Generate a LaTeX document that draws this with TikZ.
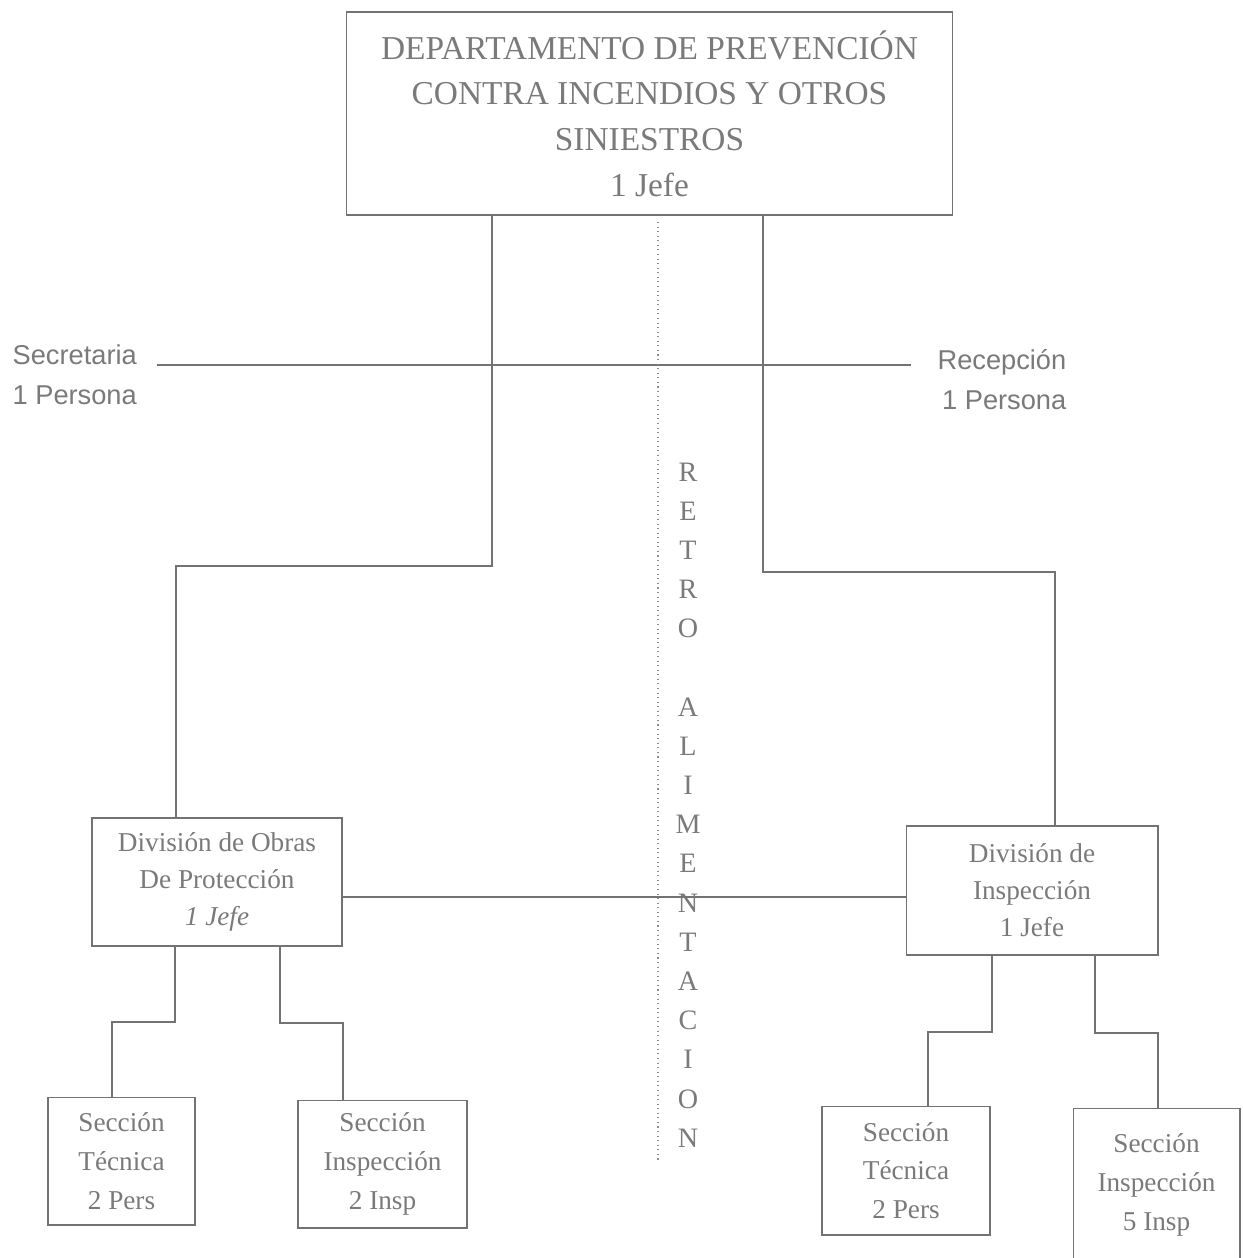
\documentclass[tikz,border=0pt]{standalone}
\usepackage{fontspec}
\setmainfont{Liberation Serif}
\newfontfamily\arialfont{Liberation Sans}
\begin{document}
\begin{tikzpicture}[x=0.02cm,y=-0.02cm,
  txt/.style={text=black!52},
  box/.style={draw=black!55,line width=0.6pt,txt,align=center,inner sep=0pt},
  conn/.style={draw=black!55,line width=0.6pt},
  dots/.style={draw=black!45,line width=0.6pt,dotted},
  bigf/.style={font=\fontsize{19}{26}\selectfont},
  divf/.style={font=\fontsize{15.5}{21}\selectfont},
  secf/.style={font=\fontsize{15.5}{22}\selectfont},
  sidef/.style={font=\arialfont\fontsize{15.5}{22.7}\selectfont,txt,inner sep=0pt}]
\clip (0,0) rectangle (1243,1258);
\fill[white] (0,0) rectangle (1243,1258);

% boxes
\node[box,bigf,minimum width=12.14cm,minimum height=4.06cm] (top) at (649.5,113.5)
  {DEPARTAMENTO DE PREVENCIÓN\\CONTRA INCENDIOS Y OTROS\\SINIESTROS\\1 Jefe};
\node[box,divf,minimum width=5cm,minimum height=2.56cm] (ldiv) at (217,882)
  {División de Obras\\De Protección\\\textit{1 Jefe}};
\node[box,divf,minimum width=5.04cm,minimum height=2.58cm] (rdiv) at (1032,890.5)
  {División de\\Inspección\\1 Jefe};
\node[box,secf,minimum width=2.94cm,minimum height=2.56cm] (stl) at (121.5,1161)
  {Sección\\Técnica\\2 Pers};
\node[box,secf,minimum width=3.38cm,minimum height=2.56cm] (sil) at (382.5,1164)
  {Sección\\Inspección\\2 Insp};
\node[box,secf,minimum width=3.36cm,minimum height=2.58cm] (str) at (906,1170.5)
  {Sección\\Técnica\\2 Pers};
\node[box,secf,minimum width=3.34cm,minimum height=3.08cm] (sir) at (1156.5,1185)
  {Sección\\Inspección\\5 Insp};

% side labels
\node[sidef,align=left,anchor=west,inner xsep=11pt] (sec) at (-7,375) {Secretaria\\1 Persona};
\node[sidef,align=right,anchor=east,inner xsep=15pt] (rec) at (1093,380) {Recepción\\1 Persona};

% vertical RETROALIMENTACION
\node[txt,align=center,inner sep=0pt,font=\fontsize{16}{22.3}\selectfont] (retro) at (688,805)
  {R\\E\\T\\R\\O\\[22.3pt]A\\L\\I\\M\\E\\N\\T\\A\\C\\I\\O\\N};

% coordinates
\coordinate (s1) at (0,365);
\coordinate (c1) at (492,566);
\coordinate (c2) at (176,566);
\coordinate (c3) at (763,572);
\coordinate (c4) at (1055,572);
\coordinate (d1) at (658,222);
\coordinate (d2) at (658,1160);
\coordinate (m) at (0,897);
\coordinate (c5) at (175,1022);
\coordinate (c6) at (112,1022);
\coordinate (c7) at (280,1023);
\coordinate (c8) at (343,1023);
\coordinate (c9) at (992,1032);
\coordinate (c10) at (928,1032);
\coordinate (c11) at (1095,1033);
\coordinate (c12) at (1158,1033);

% connectors
\draw[conn] (sec.east |- s1) -- (rec.west |- s1);
\draw[conn] (top.south -| c1) -- (c1) -- (c2) -- (c2 |- ldiv.north);
\draw[conn] (top.south -| c3) -- (c3) -- (c4) -- (c4 |- rdiv.north);
\draw[dots] (d1) -- (d2);
\draw[conn] (ldiv.east |- m) -- (rdiv.west |- m);
\draw[conn] (ldiv.south -| c5) -- (c5) -- (c6) -- (c6 |- stl.north);
\draw[conn] (ldiv.south -| c7) -- (c7) -- (c8) -- (c8 |- sil.north);
\draw[conn] (rdiv.south -| c9) -- (c9) -- (c10) -- (c10 |- str.north);
\draw[conn] (rdiv.south -| c11) -- (c11) -- (c12) -- (c12 |- sir.north);
\end{tikzpicture}
\end{document}
